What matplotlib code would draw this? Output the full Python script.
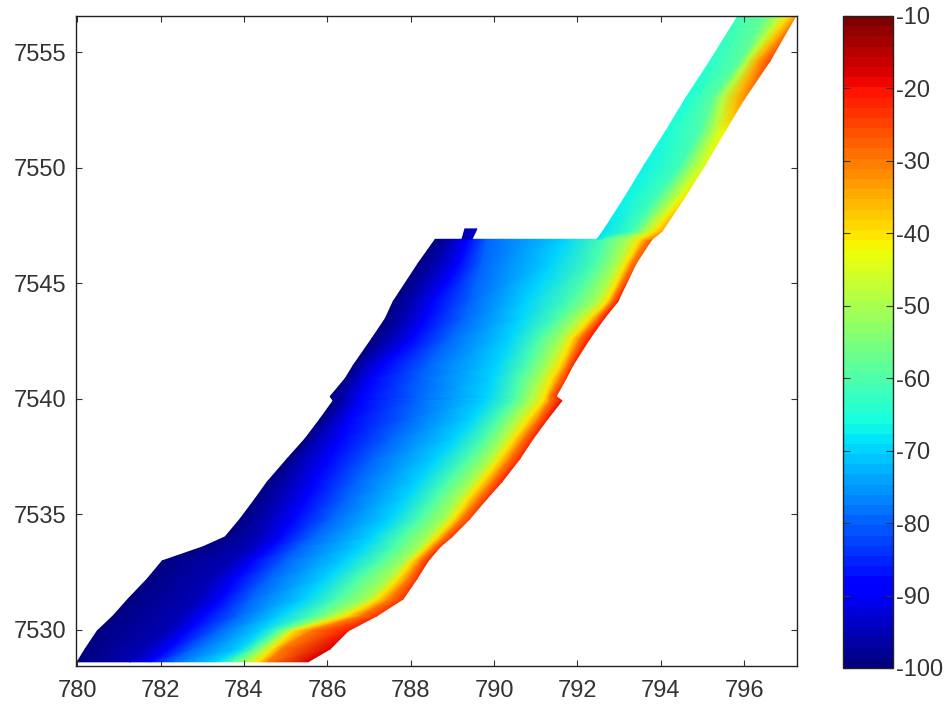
import numpy as np
import matplotlib
matplotlib.use('Agg')
import matplotlib.pyplot as plt

plt.rcParams['font.family'] = ['Liberation Sans', 'DejaVu Sans']
plt.rcParams['axes.unicode_minus'] = False

# northing of each survey row, south to north
y_main = [7528.62, 7529.18, 7529.96, 7530.61, 7531.34, 7532.21, 7532.99, 7533.60, 7534.03,
          7534.81, 7535.68, 7536.41, 7537.41, 7538.28, 7539.14, 7539.92, 7540.10, 7540.88,
          7541.44, 7542.61, 7543.47, 7544.21, 7545.86, 7546.90]

# easting of: deep edge, -95, -90, -80, -70, -60, -50, -40, -30 isobaths, shallow edge
x_main = [
    [780.00, 781.27, 781.75, 782.28, 783.31, 783.72, 784.08, 784.34, 784.58, 785.54],
    [780.19, 781.63, 782.18, 782.76, 783.91, 784.22, 784.48, 784.68, 784.90, 786.07],
    [780.48, 782.16, 782.64, 783.36, 784.39, 784.80, 785.04, 785.18, 785.60, 786.50],
    [780.86, 782.47, 783.02, 783.84, 784.87, 785.66, 786.14, 786.47, 786.79, 787.19],
    [781.22, 782.88, 783.43, 784.15, 785.47, 786.26, 786.98, 787.22, 787.51, 787.82],
    [781.68, 783.24, 783.79, 784.58, 785.95, 786.74, 787.46, 787.70, 787.94, 788.15],
    [782.04, 783.72, 784.20, 784.99, 786.43, 787.27, 787.87, 788.03, 788.23, 788.42],
    [783.02, 784.15, 784.63, 785.35, 786.83, 787.63, 788.23, 788.39, 788.56, 788.71],
    [783.55, 784.34, 784.87, 785.64, 787.07, 787.79, 788.42, 788.63, 788.82, 788.99],
    [783.91, 784.58, 785.18, 786.07, 787.51, 788.23, 788.82, 789.04, 789.23, 789.42],
    [784.27, 784.87, 785.47, 786.43, 787.87, 788.59, 789.14, 789.38, 789.62, 789.83],
    [784.56, 785.11, 785.71, 786.67, 788.18, 788.90, 789.47, 789.71, 789.95, 790.19],
    [785.04, 785.40, 786.02, 787.07, 788.63, 789.38, 789.90, 790.14, 790.38, 790.62],
    [785.47, 785.78, 786.31, 787.51, 789.06, 789.78, 790.22, 790.48, 790.70, 790.94],
    [785.83, 786.12, 786.55, 787.90, 789.47, 790.10, 790.53, 790.84, 791.06, 791.29],
    [786.14, 786.43, 786.79, 788.11, 789.78, 790.46, 790.86, 791.18, 791.34, 791.63],
    [786.07, 786.43, 786.83, 788.15, 789.83, 790.50, 790.91, 791.22, 791.34, 791.49],
    [786.43, 786.67, 787.07, 788.25, 789.95, 790.62, 791.10, 791.39, 791.58, 791.73],
    [786.62, 786.86, 787.34, 788.40, 790.07, 790.79, 791.27, 791.58, 791.75, 791.89],
    [787.07, 787.55, 788.03, 788.90, 790.38, 791.10, 791.63, 791.87, 792.06, 792.30],
    [787.39, 787.87, 788.35, 789.23, 790.62, 791.53, 792.01, 792.30, 792.47, 792.64],
    [787.58, 788.06, 788.54, 789.42, 790.79, 791.87, 792.47, 792.71, 792.83, 792.97],
    [788.18, 788.66, 789.14, 789.71, 791.39, 792.47, 792.95, 793.17, 793.31, 793.41],
    [788.59, 788.99, 789.35, 789.83, 791.70, 792.66, 793.21, 793.50, 793.67, 793.79],
]
isobaths = [-100, -95, -90, -80, -70, -60, -50, -40, -30]
# depth at the shallow edge of each row
z_shallow = [-18, -18, -21, -24, -24, -24, -22, -23, -24, -25, -24, -22,
             -22, -22, -20, -19, -24, -24, -22, -20, -20, -21, -27, -28]

# narrow northern strip
y_strip = [7546.90, 7547.24, 7548.67, 7550.10, 7551.58, 7553.01, 7554.61, 7556.65]
x_strip = [
    [792.47, 792.66, 793.21, 793.50, 793.79],
    [792.61, 793.31, 793.62, 793.84, 794.03],
    [793.12, 793.86, 794.27, 794.44, 794.56],
    [793.60, 794.46, 794.82, 794.96, 795.06],
    [794.12, 794.94, 795.28, 795.42, 795.54],
    [794.60, 795.25, 795.49, 795.83, 796.02],
    [795.18, 795.90, 796.07, 796.31, 796.62],
    [795.88, 796.55, 796.91, 797.10, 797.27],
]
z_strip = [
    [-68, -60, -50, -40, -30],
    [-68, -61, -50, -40, -35],
    [-67, -62, -50, -45, -40],
    [-67, -62, -50, -47, -44],
    [-66, -60, -48, -45, -42],
    [-65, -58, -48, -36, -32],
    [-64, -59, -48, -35, -25],
    [-62, -57, -47, -40, -33],
]

# small spur on the top edge of the survey
y_spur = [7546.90, 7547.35]
x_spur = [[789.23, 789.47], [789.30, 789.59]]
z_spur = [[-95, -93], [-95, -93]]

x_ticks = [780, 782, 784, 786, 788, 790, 792, 794, 796]
y_ticks = [7530, 7535, 7540, 7545, 7550, 7555]
cbar_ticks = [-100, -90, -80, -70, -60, -50, -40, -30, -20, -10]

W, H = 944, 704
fig = plt.figure(figsize=(W / 100, H / 100), dpi=100)
ax = fig.add_axes([76 / W, (H - 666) / H, 721 / W, 650 / H])

cmap = plt.get_cmap('jet', 64)
norm = matplotlib.colors.Normalize(vmin=-100, vmax=-10)

X = np.array(x_main)
Y = np.repeat(np.array(y_main)[:, None], X.shape[1], axis=1)
Z = np.column_stack([np.tile(isobaths, (len(y_main), 1)), z_shallow])
ax.pcolormesh(X, Y, Z, shading='gouraud', cmap=cmap, norm=norm)

X2 = np.array(x_strip)
Y2 = np.repeat(np.array(y_strip)[:, None], X2.shape[1], axis=1)
ax.pcolormesh(X2, Y2, np.array(z_strip), shading='gouraud', cmap=cmap, norm=norm)

X3 = np.array(x_spur)
Y3 = np.repeat(np.array(y_spur)[:, None], X3.shape[1], axis=1)
ax.pcolormesh(X3, Y3, np.array(z_spur), shading='gouraud', cmap=cmap, norm=norm)

ax.set_xlim(779.97, 797.27)
ax.set_ylim(7528.44, 7556.56)
ax.set_xticks(x_ticks)
ax.set_yticks(y_ticks)
ax.ticklabel_format(useOffset=False)
ax.tick_params(direction='in', top=True, right=True, length=4.5, width=0.8,
               labelsize=17, colors='#333333')
ax.tick_params(axis='x', pad=10)
ax.tick_params(axis='y', pad=7)
for s in ax.spines.values():
    s.set_linewidth(1.0)
    s.set_color('#222222')

cax = fig.add_axes([843 / W, (H - 668) / H, 50 / W, 652 / H])
sm = matplotlib.cm.ScalarMappable(norm=norm, cmap=cmap)
cb = fig.colorbar(sm, cax=cax, ticks=cbar_ticks)
cb.ax.tick_params(direction='in', left=True, right=True, length=5, width=0.8,
                  labelsize=17, colors='#333333', pad=2)
cb.outline.set_linewidth(1.0)
cb.outline.set_edgecolor('#222222')

fig.savefig('out.png', dpi=100)
